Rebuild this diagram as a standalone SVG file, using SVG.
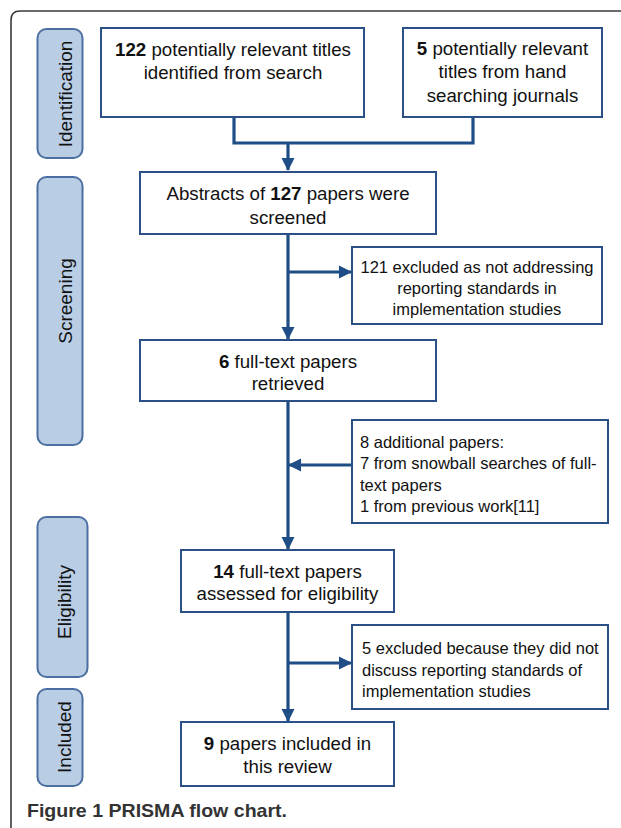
<svg xmlns="http://www.w3.org/2000/svg" width="621" height="828" viewBox="0 0 621 828">
<style>
  .frame{fill:none;stroke:#3a3a3a;stroke-width:1.6}
  .phase{fill:#b9cde5;stroke:#4a6fa0;stroke-width:2}
  .ptxt{font-family:"Liberation Sans",Arial,sans-serif;font-size:19px;fill:#111;text-anchor:middle}
  .box{fill:#fff;stroke:#2a5085;stroke-width:2}
  .t{font-family:"Liberation Sans",Arial,sans-serif;font-size:18.7px;fill:#111;text-anchor:middle}
  .s{font-family:"Liberation Sans",Arial,sans-serif;font-size:16.5px;fill:#111}
  .c{text-anchor:middle}
  .b{font-weight:bold}
  .con{fill:none;stroke:#1f4d85;stroke-width:3.2}
  .cap{font-family:"Liberation Sans",Arial,sans-serif;font-size:18.5px;font-weight:bold;fill:#333}
</style>
<defs>
  <marker id="ah" markerUnits="userSpaceOnUse" markerWidth="14" markerHeight="14" refX="12" refY="7" orient="auto">
    <path d="M0,0.5 L13,7 L0,13.5 Z" fill="#1f4d85"/>
  </marker>
</defs>
<rect width="621" height="828" fill="#fff"/>
<path class="frame" d="M11,840 L11,20 Q11,11 20,11 L640,11"/>

<g id="phase-identification">
  <rect class="phase" x="37.5" y="29" width="45" height="129" rx="9"/>
  <text class="ptxt" transform="translate(72,94) rotate(-90)">Identification</text>
</g>
<g id="phase-screening">
  <rect class="phase" x="37.5" y="177" width="45" height="268" rx="9"/>
  <text class="ptxt" transform="translate(72,301) rotate(-90)">Screening</text>
</g>
<g id="phase-eligibility">
  <rect class="phase" x="37.5" y="517" width="50" height="160" rx="9"/>
  <text class="ptxt" transform="translate(71,602) rotate(-90)">Eligibility</text>
</g>
<g id="phase-included">
  <rect class="phase" x="37.5" y="689" width="45" height="97" rx="9"/>
  <text class="ptxt" transform="translate(71,737) rotate(-90)">Included</text>
</g>

<g id="connectors">
  <path class="con" d="M234,117 L234,143 L473,143 L473,117"/>
  <path class="con" d="M288,143 L288,170" marker-end="url(#ah)"/>
  <path class="con" d="M288,234 L288,339" marker-end="url(#ah)"/>
  <path class="con" d="M288,272 L351,272" marker-end="url(#ah)"/>
  <path class="con" d="M288,401 L288,549" marker-end="url(#ah)"/>
  <path class="con" d="M352,465 L289,465" marker-end="url(#ah)"/>
  <path class="con" d="M288,612 L288,721" marker-end="url(#ah)"/>
  <path class="con" d="M288,663 L351,663" marker-end="url(#ah)"/>
</g>

<g id="n-search">
  <rect class="box" x="101" y="28" width="263" height="89"/>
  <text class="t" x="233" y="56"><tspan class="b">122</tspan> potentially relevant titles</text>
  <text class="t" x="233" y="79">identified from search</text>
</g>
<g id="n-hand">
  <rect class="box" x="403" y="28" width="199" height="89"/>
  <text class="t" x="502.5" y="55"><tspan class="b">5</tspan> potentially relevant</text>
  <text class="t" x="502.5" y="78">titles from hand</text>
  <text class="t" x="502.5" y="102">searching journals</text>
</g>
<g id="n-abstracts">
  <rect class="box" x="140" y="172" width="296" height="62"/>
  <text class="t" x="288" y="200">Abstracts of <tspan class="b">127</tspan> papers were</text>
  <text class="t" x="288" y="224">screened</text>
</g>
<g id="n-excl1">
  <rect class="box" x="352" y="247" width="250" height="77"/>
  <text class="s c" x="477" y="273">121 excluded as not addressing</text>
  <text class="s c" x="477" y="294">reporting standards in</text>
  <text class="s c" x="477" y="315">implementation studies</text>
</g>
<g id="n-fulltext">
  <rect class="box" x="140" y="340" width="296" height="61"/>
  <text class="t" x="288" y="368"><tspan class="b">6</tspan> full-text papers</text>
  <text class="t" x="288" y="390">retrieved</text>
</g>
<g id="n-additional">
  <rect class="box" x="352" y="420" width="256" height="103"/>
  <text class="s" x="360" y="448">8 additional papers:</text>
  <text class="s" x="360" y="469">7 from snowball searches of full-</text>
  <text class="s" x="360" y="491">text papers</text>
  <text class="s" x="360" y="512">1 from previous work[11]</text>
</g>
<g id="n-assessed">
  <rect class="box" x="181" y="550" width="213" height="62"/>
  <text class="t" x="287.5" y="578"><tspan class="b">14</tspan> full-text papers</text>
  <text class="t" x="287.5" y="600">assessed for eligibility</text>
</g>
<g id="n-excl2">
  <rect class="box" x="352" y="625" width="256" height="84"/>
  <text class="s" x="362" y="654">5 excluded because they did not</text>
  <text class="s" x="362" y="676">discuss reporting standards of</text>
  <text class="s" x="362" y="697">implementation studies</text>
</g>
<g id="n-included">
  <rect class="box" x="181" y="722" width="213" height="64"/>
  <text class="t" x="287.5" y="750"><tspan class="b">9</tspan> papers included in</text>
  <text class="t" x="287.5" y="773">this review</text>
</g>

<text class="cap" x="27" y="817" textLength="260" lengthAdjust="spacingAndGlyphs">Figure 1 PRISMA flow chart.</text>
</svg>
